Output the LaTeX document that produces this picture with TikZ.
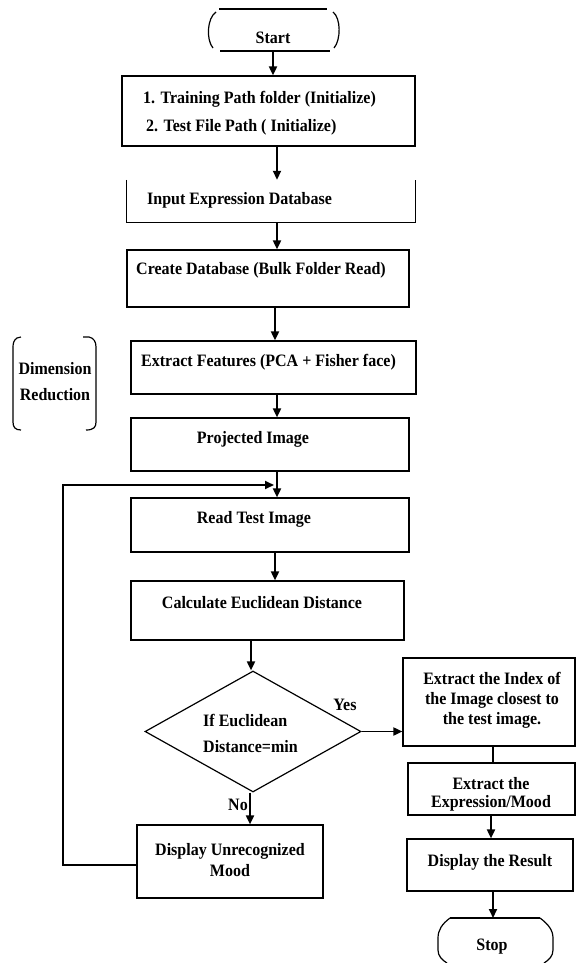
\documentclass[tikz,border=0pt]{standalone}
\usepackage{fontspec}
\setmainfont{Liberation Serif}[FakeStretch=0.92]
\usetikzlibrary{arrows.meta,shapes.geometric,calc}
\begin{document}
\begin{tikzpicture}[x=1pt,y=-1pt,
  boxframe/.style={draw=black,line width=1.2pt,inner sep=0pt,rectangle},
  txt/.style={inner sep=0pt,font=\fontsize{17.4}{20}\selectfont\bfseries},
  conn/.style={line width=1.8pt,-{Triangle[length=9pt,width=8pt]}},
  plain/.style={line width=1.8pt},
  shapeline/.style={line width=1.2pt}]
\useasboundingbox (0,0) rectangle (576,963);
\fill[white] (0,0) rectangle (576,963);

% Start terminal
\draw[shapeline] (219,9) -- (327,9);
\draw[shapeline] (220,51) -- (330,51);
\draw[shapeline] (216,12) .. controls (207,18) and (206,40) .. (213,48);
\draw[shapeline] (333,12) .. controls (341,18) and (341,40) .. (334,48);
\node[txt] (tstart) at (273,38) {Start};
\coordinate (startb) at (273,51);

% Box 1
\node[boxframe,minimum width=293pt,minimum height=70pt] (b1) at (268.5,111) {};
\node[txt,anchor=west] (t1a) at (143,99) {1. Training Path folder (Initialize)};
\node[txt,anchor=west] (t1b) at (146,127) {2. Test File Path ( Initialize)};

% Box 2 (open top)
\node[inner sep=0pt,minimum width=288pt,minimum height=42pt] (b2) at (271,201) {};
\draw[shapeline] (b2.north west) -- (b2.south west) -- (b2.south east) -- (b2.north east);
\node[txt,anchor=west] (t2) at (147,200) {Input Expression Database};

% Box 3
\node[boxframe,minimum width=282pt,minimum height=57pt] (b3) at (268,278.5) {};
\node[txt,anchor=west] (t3) at (136,270) {Create Database (Bulk Folder Read)};

% Box 4
\node[boxframe,minimum width=285pt,minimum height=53pt] (b4) at (273.5,367.5) {};
\node[txt,anchor=west] (t4) at (141,362) {Extract Features (PCA + Fisher face)};

% Dimension reduction bracket
\draw[shapeline] (21,337) -- (17,338) .. controls (14,340) and (13,343) .. (13,347) -- (13,422) .. controls (13,427) and (15,430) .. (21,430);
\draw[shapeline] (83,337) -- (89,337) .. controls (94,338) and (96,342) .. (96,347) -- (96,422) .. controls (96,427) and (94,430) .. (86,430);
\node[txt,align=center,font=\fontsize{17.4}{26}\selectfont\bfseries] (tdim) at (55,382) {Dimension\\Reduction};

% Box 5
\node[boxframe,minimum width=278pt,minimum height=53pt] (b5) at (270,444.5) {};
\node[txt] (t5) at (253,439) {Projected Image};

% Box 6
\node[boxframe,minimum width=278pt,minimum height=54pt] (b6) at (270,525) {};
\node[txt] (t6) at (254,519) {Read Test Image};

% Box 7
\node[boxframe,minimum width=273pt,minimum height=59pt] (b7) at (267.5,610.5) {};
\node[txt] (t7) at (262,603) {Calculate Euclidean Distance};

% Decision
\node[draw=black,line width=1.2pt,diamond,inner sep=0pt,minimum width=216pt,minimum height=121pt,aspect=1.785] (d) at (253,731.5) {};
\node[txt,align=left,anchor=west,font=\fontsize{17.4}{26}\selectfont\bfseries] (td) at (203,733) {If Euclidean\\Distance=min};
\node[txt] (tyes) at (345,705) {Yes};
\node[txt] (tno) at (238,805) {No};

% Box 8
\node[boxframe,minimum width=172pt,minimum height=88pt] (b8) at (489,702) {};
\node[txt,align=center] (t8) at (492,700) {Extract the Index of\\the Image closest to\\the test image.};

% Box 9
\node[boxframe,minimum width=167pt,minimum height=52pt] (b9) at (491.5,789) {};
\node[txt,align=center,font=\fontsize{17.4}{18}\selectfont\bfseries] (t9) at (491,794) {Extract the\\Expression/Mood};

% Box 10
\node[boxframe,minimum width=166pt,minimum height=52pt] (b10) at (490,865) {};
\node[txt] (t10) at (490,862) {Display the Result};

% Box 11
\node[boxframe,minimum width=186pt,minimum height=73pt] (b11) at (230,861.5) {};
\node[txt,align=center,font=\fontsize{17.4}{21}\selectfont\bfseries] (t11) at (230,860) {Display Unrecognized\\Mood};

% Stop terminal
\draw[shapeline] (450,918) -- (540,918);
\draw[shapeline] (450,918) .. controls (442,924) and (438,930) .. (438,938) -- (438,950) .. controls (438,956) and (442,960) .. (447,963);
\draw[shapeline] (540,918) .. controls (548,924) and (553,930) .. (553,938) -- (553,950) .. controls (553,956) and (549,960) .. (544,963);
\node[txt] (tstop) at (492,947) {Stop};
\coordinate (stopt) at (493,918);

% Connectors
\draw[conn] (startb) -- (startb |- b1.north);
\draw[conn] ([xshift=8.5pt]b1.south) -- ([xshift=6pt]b2.north);
\draw[conn] ([xshift=6pt]b2.south) -- ([xshift=9pt]b3.north);
\draw[conn] ([xshift=7pt]b3.south) -- ([xshift=1.5pt]b4.north);
\draw[conn] ([xshift=3.5pt]b4.south) -- ([xshift=7pt]b5.north);
\draw[conn] ([xshift=7pt]b5.south) -- ([xshift=7pt]b6.north);
\coordinate (loopL) at (63,865);
\coordinate (loopT) at (63,485);
\coordinate (loopE) at (274,485);
\draw[conn] (b11.west |- loopL) -- (loopL) -- (loopT) -- (loopE);
\draw[conn] ([xshift=5pt]b6.south) -- ([xshift=7.5pt]b7.north);
\draw[conn] ([xshift=-16.5pt]b7.south) -- ([xshift=-2pt]d.north);
\draw[conn] (d.east) -- (d.east -| b8.west);
\draw[conn] ([xshift=-3pt]d.south) -- ([xshift=-3pt]d.south |- b11.north);
\draw[plain] ([xshift=4pt]b8.south) -- ([xshift=1.5pt]b9.north);
\draw[conn] ([xshift=-0.5pt]b9.south) -- ([xshift=1pt]b10.north);
\draw[conn] ([xshift=3pt]b10.south) -- (stopt);
\end{tikzpicture}
\end{document}
